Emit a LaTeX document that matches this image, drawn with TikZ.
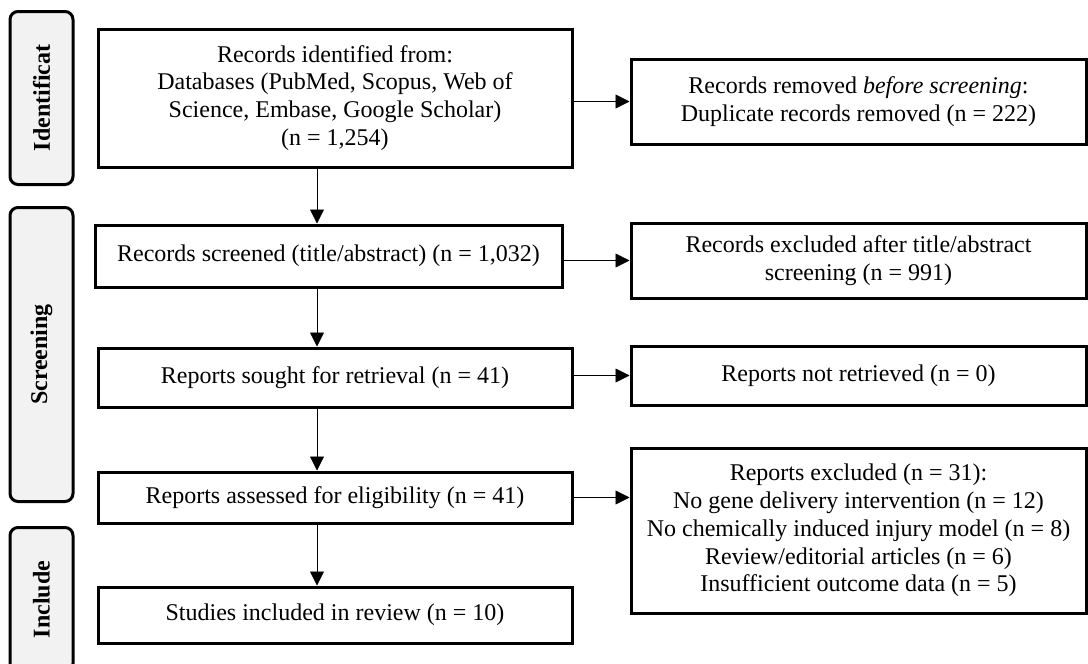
\documentclass[tikz,border=0pt]{standalone}
\usepackage{fontspec}
\setmainfont{Liberation Serif}
\usetikzlibrary{positioning, arrows.meta}
\newcommand{\flowfont}{\fontsize{12}{13.9}\selectfont}
\tikzset{
->, % every connector is an arrow
>={Triangle[length=7pt, width=7pt]}, % filled triangle heads
line width=1pt, % connector thickness
mainbox/.style={draw, line width=1.5pt, minimum width=237pt, align=center, inner sep=2pt}, % boxes of the main column
sidebox/.style={draw, line width=1.5pt, minimum width=227.5pt, align=center, inner sep=2pt}, % boxes on the right
stage/.style={draw, line width=1.5pt, rounded corners=4pt, fill=gray!10, rotate=90, minimum height=31.5pt, font=\flowfont\bfseries}, % phase labels on the left
}
\begin{document}
\begin{tikzpicture}[x=0.5pt, y=-0.5pt, on grid, font=\flowfont]
    \useasboundingbox (0,0) rectangle (1088,664);

    \node[mainbox, minimum height=69pt] (ident) at (335,98) {Records identified from:\\ Databases (PubMed, Scopus, Web of\\ Science, Embase, Google Scholar)\\ (n = 1,254)};
    \node[mainbox, minimum width=233.5pt, minimum height=31pt, below=79pt of ident, xshift=-3.25pt] (screened) {Records screened (title/abstract) (n = 1,032)};
    \node[mainbox, minimum height=29.5pt, below=60.75pt of screened, xshift=3.25pt] (sought) {Reports sought for retrieval (n = 41)};
    \node[mainbox, minimum height=25.5pt, below=60pt of sought] (assessed) {Reports assessed for eligibility (n = 41)};
    \node[mainbox, minimum height=28pt, below=58.75pt of assessed] (included) {Studies included in review (n = 10)};

    \node[sidebox, minimum height=42.5pt, right=261.75pt of ident, yshift=-1.75pt] (removed) {Records removed \textit{before screening}:\\ Duplicate records removed (n = 222)};
    \node[sidebox, minimum height=37.5pt, below=79.5pt of removed] (excluded) {Records excluded after title/abstract\\ screening (n = 991)};
    \node[sidebox, minimum height=29.5pt, below=57.5pt of excluded] (notretr) {Reports not retrieved (n = 0)};
    \node[sidebox, minimum height=82.5pt, below=77.5pt of notretr] (repexcl) {Reports excluded (n = 31):\\ No gene delivery intervention (n = 12)\\ No chemically induced injury model (n = 8)\\ Review/editorial articles (n = 6)\\ Insufficient outcome data (n = 5)};

    \node[stage, minimum width=86.5pt, left=146.75pt of ident] (idstage) {Identificat};
    \node[stage, minimum width=147pt, below=128.25pt of idstage] (scrstage) {Screening};
    \node[stage, minimum width=72pt, below=122.5pt of scrstage] (incstage) {Include};

    \draw
    ([xshift=-9pt]ident.south) -- ([xshift=-9pt]ident.south |- screened.north);
    \draw
    ([xshift=-9pt]ident.south |- screened.south) -- ([xshift=-9pt]ident.south |- sought.north);
    \draw
    ([xshift=-9pt]ident.south |- sought.south) -- ([xshift=-9pt]ident.south |- assessed.north);
    \draw
    ([xshift=-9pt]ident.south |- assessed.south) -- ([xshift=-9pt]ident.south |- included.north);

    \draw (removed.west -| ident.east) -- (removed.west);
    \draw (excluded.west -| screened.east) -- (excluded.west);
    \draw (notretr.west -| sought.east) -- (notretr.west);
    \draw (assessed.east) -- (assessed.east -| repexcl.west);
\end{tikzpicture}
\end{document}
